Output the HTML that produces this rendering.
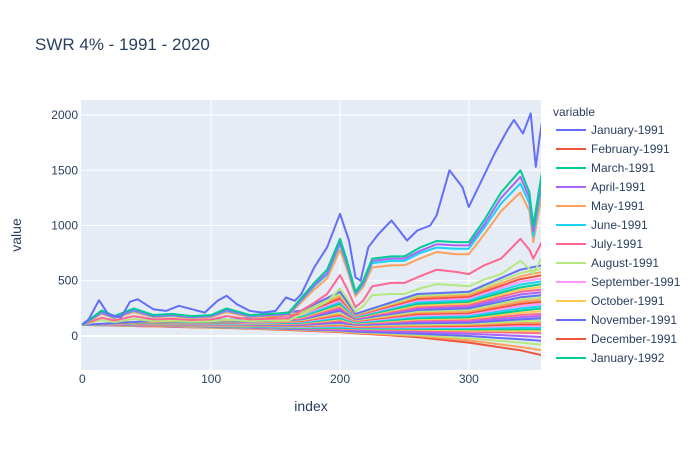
<!DOCTYPE html>
<html><head><meta charset="utf-8"><style>
body{margin:0;background:#fff;font-family:"Liberation Sans",Arial,sans-serif}
svg text{font-family:"Liberation Sans",Arial,sans-serif;fill:#2a3f5f}
</style></head><body>
<svg id="c" width="700" height="450" xmlns="http://www.w3.org/2000/svg">
<rect x="0" y="0" width="700" height="450" fill="#fff"/>
<text x="35" y="50" font-size="17">SWR 4% - 1991 - 2020</text>
<rect x="81" y="100" width="460" height="270" fill="#e5ecf6"/>
<defs><clipPath id="clip"><rect x="81" y="100" width="460" height="270"/></clipPath></defs>
<g id="grid"></g><g id="lines" clip-path="url(#clip)"></g><g id="axes"></g>
<text x="21" y="235" font-size="14" text-anchor="middle" transform="rotate(-90 21 235)">value</text>
<text x="311" y="411" font-size="14" text-anchor="middle">index</text>
<text x="553" y="116" font-size="12">variable</text>
<g id="legend"></g>
</svg>
<script>
const xTicks=[0,100,200,300];
const yTicks=[0,500,1000,1500,2000];
const colors=["#636efa","#EF553B","#00cc96","#ab63fa","#FFA15A","#19d3f3","#FF6692","#B6E880","#FF97FF","#FECB52"];
const legendNames=["January-1991","February-1991","March-1991","April-1991","May-1991","June-1991","July-1991","August-1991","September-1991","October-1991","November-1991","December-1991","January-1992"];
const janIdx=[0,5,13,20,30,37,43,55,65,75,85,95,105,112,120,130,140,150,158,165,170,180,190,200,203,207,212,216,222,230,240,245,252,260,270,275,285,295,300,310,320,330,335,342,348,352,355,357];
const janVals=[106,150,324,197,167,309,333,242,227,273,242,212,318,364,288,227,212,227,348,318,379,621,803,1106,1000,864,530,500,803,924,1045,970,864,955,1000,1091,1500,1348,1167,1409,1652,1864,1955,1833,2015,1530,1803,1955];
const topIdx=[0,15,25,40,55,70,85,100,112,130,145,160,180,190,200,205,212,218,225,240,250,262,275,290,300,312,325,340,347,350,357];
const marchVals=[100,230,180,250,190,200,180,190,250,190,200,210,480,600,880,700,400,500,700,720,720,800,860,850,850,1050,1300,1500,1300,1000,1500];
const aprilVals=[100,215,170,235,180,190,172,182,235,182,190,200,460,570,850,670,390,480,680,700,700,770,830,820,820,1010,1250,1440,1250,950,1450];
const juneVals=[100,210,165,228,176,185,168,178,228,178,186,196,450,555,830,655,380,470,660,680,680,750,800,790,790,980,1200,1380,1200,900,1400];
const mayVals=[100,200,160,215,170,178,162,172,215,172,180,190,420,520,780,620,360,445,620,640,640,700,760,740,740,920,1130,1300,1130,850,1300];
const julyVals=[100,165,140,180,150,155,145,150,180,150,155,160,300,380,550,440,260,320,450,480,480,540,600,580,560,640,700,880,780,700,860];
const augVals=[100,145,125,155,135,140,132,135,150,135,140,140,250,310,430,350,220,270,370,380,380,430,470,460,450,510,560,680,610,560,720];
const bandIdx=[0,60,120,170,200,212,260,300,340,357];
const band1=[100,140,150,230,400,200,380,400,600,640];
const band2=[100,135,145,210,360,190,350,370,540,580];
const band3=[100,130,140,190,320,180,320,340,490,520];
const band4=[100,125,135,175,290,170,290,310,440,470];
const band5=[100,120,130,160,260,160,260,280,400,420];
const band6=[100,118,125,150,230,150,235,250,350,370];
const band7=[100,115,120,140,200,140,210,220,310,330];
const band8=[100,112,115,130,180,130,185,195,270,290];
const band9=[100,110,110,120,160,120,160,170,230,250];
const band10=[100,105,105,110,140,110,140,145,190,200];
const band11=[100,100,100,100,120,100,115,120,150,160];
const band12=[100,98,95,95,105,90,95,100,120,120];
const band13=[100,95,90,85,90,80,80,80,90,90];
const band14=[100,95,85,75,75,70,65,60,60,60];
const band15=[100,92,82,70,65,60,50,40,30,25];
const band16=[100,90,80,65,55,50,35,20,0,-10];
const band17=[100,90,78,60,50,40,20,0,-30,-45];
const band18=[100,88,75,58,45,35,10,-20,-60,-80];
const band19=[100,87,73,55,40,30,0,-40,-100,-130];
const band20=[100,85,70,50,35,25,-10,-60,-130,-175];
const band21=[100,138,148,220,380,195,365,385,570,610];
const band22=[100,132,142,200,340,185,335,355,515,550];
const band23=[100,128,138,182,305,175,305,325,465,495];
const band24=[100,122,132,168,275,165,275,295,420,445];
const band25=[100,119,128,155,245,155,248,265,375,395];
const band26=[100,116,122,145,215,145,222,235,330,350];
const band27=[100,113,118,135,190,135,198,208,290,310];
const band28=[100,111,112,125,170,125,172,182,250,270];
const band29=[100,107,107,115,150,115,150,158,210,225];
const band30=[100,102,102,105,130,105,128,132,170,180];
const band31=[100,99,97,97,112,95,105,110,135,140];
const band32=[100,96,92,90,98,85,88,90,105,105];
const band33=[100,95,88,80,82,75,72,70,75,75];
const band34=[100,93,84,72,70,65,58,50,45,42];

const X0=-1,X1=356, Y0=-308, Y1=2136;
const px={l:81,r:541,t:100,b:370};
function sx(v){return px.l+(v-X0)/(X1-X0)*(px.r-px.l);}
function sy(v){return px.b-(v-Y0)/(Y1-Y0)*(px.b-px.t);}
const NS="http://www.w3.org/2000/svg";
const grid=document.getElementById('grid'),axes=document.getElementById('axes'),lines=document.getElementById('lines'),leg=document.getElementById('legend');
xTicks.forEach(t=>{
  const l=document.createElementNS(NS,'line');
  
  
  l.setAttribute('x1',sx(t));l.setAttribute('x2',sx(t));l.setAttribute('y1',px.t);l.setAttribute('y2',px.b);
  l.setAttribute('stroke',t===0?'#e5ecf6':'#fff');l.setAttribute('stroke-width',1);grid.appendChild(l);
  const tx=document.createElementNS(NS,'text');
  
  
  tx.setAttribute('x',sx(t));tx.setAttribute('y',383);tx.setAttribute('font-size',12);tx.setAttribute('text-anchor','middle');tx.textContent=t;axes.appendChild(tx);
});
yTicks.forEach(t=>{
  const l=document.createElementNS(NS,'line');
  
  
  l.setAttribute('x1',px.l);l.setAttribute('x2',px.r);l.setAttribute('y1',sy(t));l.setAttribute('y2',sy(t));
  l.setAttribute('stroke','#fff');l.setAttribute('stroke-width',t===0?2:1);grid.appendChild(l);
  const tx=document.createElementNS(NS,'text');
  
  
  tx.setAttribute('x',78);tx.setAttribute('y',sy(t)+4);tx.setAttribute('font-size',12);tx.setAttribute('text-anchor','end');tx.textContent=t;axes.appendChild(tx);
});
function draw(idx,vals,color,name){
  const p=document.createElementNS(NS,'path');
  
  
  p.setAttribute('d',idx.map((x,i)=>(i?'L':'M')+sx(x).toFixed(1)+','+sy(vals[i]).toFixed(1)).join(''));
  p.setAttribute('fill','none');p.setAttribute('stroke',color);p.setAttribute('stroke-width',2);p.setAttribute('stroke-linejoin','round');
  lines.appendChild(p);
}
const bands=[band20,band19,band18,band17,band16,band15,band34,band14,band33,band13,band32,band12,band31,band11,band30,band10,band29,band9,band28,band8,band27,band7,band26,band6,band25,band5,band24,band4,band23,band3,band22,band2,band21,band1];
bands.forEach((b,i)=>draw(bandIdx,b,colors[(i*3+1)%10],'series-line'));
draw(topIdx,augVals,colors[7],'series-line');
draw(topIdx,julyVals,colors[6],'series-line');
draw(topIdx,mayVals,colors[4],'series-line');
draw(topIdx,juneVals,colors[5],'series-line');
draw(topIdx,aprilVals,colors[3],'series-line');
draw(topIdx,marchVals,colors[2],'series-line');
draw(janIdx,janVals,colors[0],'series-line');
legendNames.forEach((n,i)=>{
  const y=130+i*19;
  const g=document.createElementNS(NS,'g');
  
  
  const l=document.createElementNS(NS,'line');
  l.setAttribute('x1',556);l.setAttribute('x2',586);l.setAttribute('y1',y);l.setAttribute('y2',y);
  l.setAttribute('stroke',colors[i%10]);l.setAttribute('stroke-width',2);g.appendChild(l);
  const t=document.createElementNS(NS,'text');
  t.setAttribute('x',591);t.setAttribute('y',y+4);t.setAttribute('font-size',12);t.textContent=n;g.appendChild(t);
  leg.appendChild(g);
});
</script>
</body></html>
